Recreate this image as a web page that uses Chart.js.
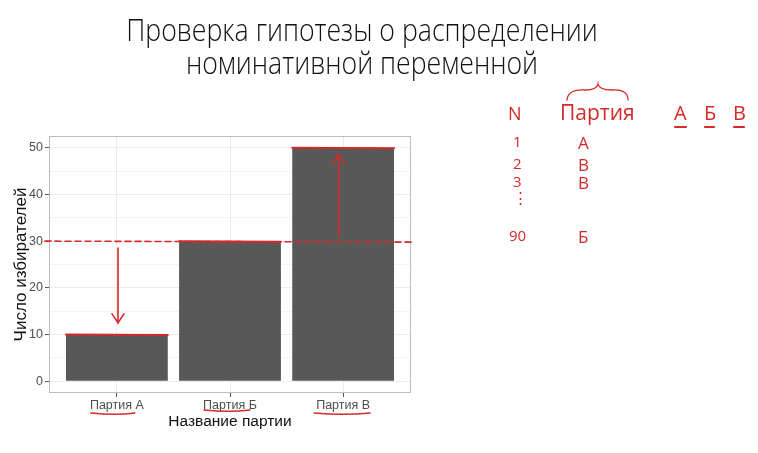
<!DOCTYPE html>
<html><head><meta charset="utf-8">
<script src="https://cdn.jsdelivr.net/npm/chart.js@4/dist/chart.umd.min.js"></script>
<style>
html,body{margin:0;padding:0;background:#fff;}
#wrap{position:relative;width:758px;height:453px;overflow:hidden;background:#fff;}
#c{position:absolute;left:0;top:0;}
.title{position:absolute;left:0;width:724px;text-align:center;font-family:"Open Sans",sans-serif;font-weight:300;font-size:31px;color:#111;white-space:nowrap;transform:scaleX(0.86);transform-origin:362px 0;}
.hw{position:absolute;font-family:"Open Sans",sans-serif;font-weight:400;color:#d42a2a;white-space:nowrap;line-height:1;}
</style></head>
<body>
<div id="wrap">
<canvas id="c" width="758" height="453"></canvas>
<div class="title" style="top:8px;">Проверка гипотезы о распределении</div>
<div class="title" style="top:41px;">номинативной переменной</div>
<div id="notes"></div>
</div>
<script>
// ---- data ----
const categories = ["Партия А", "Партия Б", "Партия В"];
const voters = [10, 30, 50];
const expected = 30;
const yTicks = [0, 10, 20, 30, 40, 50];
const xTitle = "Название партии";
const yTitle = "Число избирателей";
// handwritten table notes
const noteN = ["N", "1", "2", "3", "⋮", "90"];
const noteParty = ["Партия", "А", "В", "В", "", "Б"];
const noteHeader = ["А", "Б", "В"];

const RED = "#d42a2a";

(function(){
  const notes = document.getElementById('notes');
  const rowsY = [104, 134, 156, 174, 190, 228];
  noteN.forEach((t,i)=>{
    const d=document.createElement('div'); d.className='hw';
    d.textContent=t; d.style.left=(i===0?508:(t==="90"?509:513))+'px'; d.style.top=rowsY[i]+'px';
    d.style.fontSize=(i===0?'18px':'15px'); notes.appendChild(d);
  });
  noteParty.forEach((t,i)=>{
    if(!t) return;
    const d=document.createElement('div'); d.className='hw';
    d.textContent=t; d.style.left=(i===0?560:578)+'px'; d.style.top=(rowsY[i]-(i===0?2:0))+'px';
    d.style.fontSize=(i===0?'21px':'17px'); notes.appendChild(d);
  });
  const hx=[674,704,733];
  noteHeader.forEach((t,i)=>{
    const d=document.createElement('div'); d.className='hw';
    d.textContent=t; d.style.left=hx[i]+'px'; d.style.top='103px'; d.style.fontSize='20px';
    notes.appendChild(d);
  });
})();

const annot = {
  id:'annot',
  afterDraw(chart){
    const ctx=chart.ctx, a=chart.chartArea, xs=chart.scales.x, ys=chart.scales.y;
    ctx.save();
    ctx.strokeStyle='#bdbdbd'; ctx.lineWidth=1;
    ctx.strokeRect(a.left+0.5,a.top+0.5,a.right-a.left-1,a.bottom-a.top-1);
    ctx.strokeStyle=RED; ctx.lineCap='round';
    // brace above "Партия"
    ctx.lineWidth=1.3;
    ctx.beginPath(); ctx.moveTo(567,100); ctx.quadraticCurveTo(568,89,585,90);
    ctx.quadraticCurveTo(597,90,598,84); ctx.quadraticCurveTo(599,90,612,90);
    ctx.quadraticCurveTo(628,89,628,100); ctx.stroke();
    // short dashes under header letters
    ctx.lineWidth=2.2;
    [[675,686],[705,714],[734,744]].forEach(s=>{
      ctx.beginPath(); ctx.moveTo(s[0],127); ctx.lineTo(s[1],127); ctx.stroke();
    });
    // dashed expected line
    ctx.lineWidth=1.6; ctx.setLineDash([6,4]);
    const ye=ys.getPixelForValue(expected);
    ctx.beginPath(); ctx.moveTo(a.left-4,ye); ctx.lineTo(a.right,ye+1); ctx.stroke();
    ctx.setLineDash([]);
    const meta=chart.getDatasetMeta(0);
    ctx.lineWidth=2;
    meta.data.forEach(b=>{
      const h=b.width/2;
      ctx.beginPath(); ctx.moveTo(b.x-h,b.y); ctx.lineTo(b.x+h,b.y+0.5); ctx.stroke();
    });
    function arrow(xv,y1,y2){
      const x=xs.getPixelForValue(xv), p1=ys.getPixelForValue(y1), p2=ys.getPixelForValue(y2);
      ctx.lineWidth=1.6;
      ctx.beginPath(); ctx.moveTo(x,p1); ctx.lineTo(x,p2); ctx.stroke();
      const dir=p2>p1?-1:1;
      ctx.beginPath(); ctx.moveTo(x-6,p2+dir*9); ctx.lineTo(x,p2); ctx.lineTo(x+6,p2+dir*9); ctx.stroke();
    }
    arrow(1.01,28.5,12.5);
    arrow(2.96,31,48.5);
    ctx.lineWidth=1.4;
    const ul=[[1,-26,18,414],[2,-26,20,411],[3,-29,27,414]];
    ul.forEach(u=>{
      const x=xs.getPixelForValue(u[0]);
      ctx.beginPath(); ctx.moveTo(x+u[1],u[3]-1); ctx.quadraticCurveTo(x,u[3]+1.5,x+u[2],u[3]-1); ctx.stroke();
    });
    ctx.restore();
  }
};

new Chart(document.getElementById('c'),{
  type:'bar',
  data:{datasets:[{
    data:voters.map((v,i)=>({x:i+1,y:v})),
    backgroundColor:'#585858',
    borderWidth:0,
    barPercentage:0.9,
    categoryPercentage:1
  }]},
  options:{
    responsive:false,animation:false,
    layout:{padding:{left:11,top:136,right:347,bottom:22}},
    plugins:{legend:{display:false},tooltip:{enabled:false}},
    scales:{
      x:{type:'linear',min:0.4,max:3.6,offset:false,
        afterBuildTicks(s){s.ticks=categories.map((c,i)=>({value:i+1}));},
        afterFit(s){s.height=38;},
        ticks:{callback:(v)=>categories[Math.round(v)-1]||'',color:'#4d4d4d',font:{family:'Liberation Sans',size:12.5},padding:1,maxRotation:0},
        grid:{offset:false,color:'#ebebeb',lineWidth:1,tickLength:4,tickColor:'#555'},
        border:{display:false},
        title:{display:true,text:xTitle,color:'#111',font:{family:'Liberation Sans',size:15.5},padding:{top:0,bottom:0}}
      },
      y:{min:-2.5,max:52.5,
        afterBuildTicks(s){
          const t=[]; for(let v=0;v<=50;v+=5) t.push({value:v}); s.ticks=t;
        },
        afterFit(s){s.width=38;},
        ticks:{callback:(v)=>yTicks.includes(v)?String(v):'',color:'#4d4d4d',font:{family:'Liberation Sans',size:12.5},padding:2},
        grid:{color:'#ebebeb',lineWidth:(c)=>(c.tick&&c.tick.value%10===0)?1:0.6,tickLength:4,
          tickColor:(c)=>(c.tick&&c.tick.value%10===0)?'#555':'rgba(0,0,0,0)'},
        border:{display:false},
        title:{display:true,text:yTitle,color:'#111',font:{family:'Liberation Sans',size:17},padding:{top:0,bottom:3}}
      }
    }
  },
  plugins:[annot]
});
</script>
</body></html>
